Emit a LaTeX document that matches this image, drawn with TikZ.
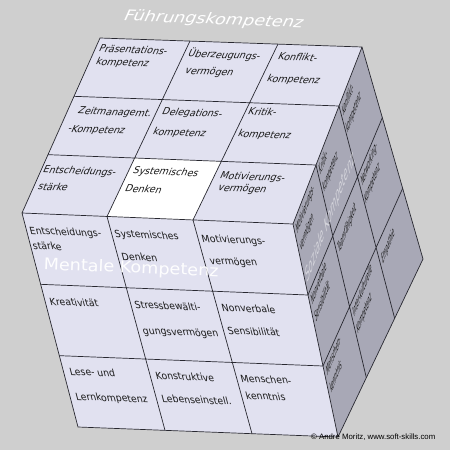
\documentclass[tikz,border=0pt]{standalone}
\usepackage{fontspec}
\usetikzlibrary{calc}
\newfontfamily\cf{DejaVu Sans}[FakeStretch=0.9]
\newfontfamily\wf{DejaVu Sans}[FakeStretch=1.1]
\newfontfamily\lf{Liberation Sans}
\definecolor{bg}{RGB}{207,207,207}
\definecolor{facel}{RGB}{225,225,240}
\definecolor{facer}{RGB}{168,168,182}
\definecolor{edgec}{RGB}{40,40,48}
\newcommand\rpt[3]{%
  \coordinate (#1t) at ($(M3)!#2!(TB3)$);
  \coordinate (#1b) at ($(B3)!#2!(R)$);
  \coordinate (#1) at ($(#1t)!#3!(#1b)$);}
\begin{document}
\begin{tikzpicture}[x=1pt,y=-1pt,
  gridl/.style={draw=edgec,line width=0.7pt},
  frontcm/.style={cm={0.9992,-0.0406,-0.2532,0.9674,(0,0)}},
  topcm/.style={cm={0.9992,-0.039,0.407,0.913,(0,0)}},
  rightcm/.style={cm={0.261,0.671,-0.248,1.174,(0,0)}},
  ftext/.style={font=\cf\fontsize{10.3}{12}\selectfont, anchor=mid west, inner sep=0pt, text=black!90, frontcm},
  ttext/.style={font=\cf\fontsize{10.5}{12}\selectfont, anchor=mid west, inner sep=0pt, text=black!90, topcm},
  rtext/.style={font=\cf\fontsize{10.5}{15}\selectfont, align=left, anchor=north west, inner sep=0pt, text=black!90, rightcm},
  wmark/.style={font=\wf\fontsize{16}{18}\selectfont, anchor=base, inner sep=0pt, text=white}
]
\fill[bg] (0,0) rectangle (450,450);
\useasboundingbox (0,0) rectangle (450,450);
% corners
\coordinate (TB0) at (100,38);
\coordinate (TB1) at (190,41);
\coordinate (TB2) at (278,44);
\coordinate (TB3) at (362,47);
\coordinate (M0) at (22,213);
\coordinate (M1) at (107,216.5);
\coordinate (M2) at (193,220);
\coordinate (M3) at (293,224);
\coordinate (B0) at (78,427);
\coordinate (B1) at (165,430.3);
\coordinate (B2) at (252,433.7);
\coordinate (B3) at (338,437);
\coordinate (R) at (423,259);
% faces
\fill[facel] (TB0)--(TB3)--(M3)--(M0)--cycle;
\fill[facel] (M0)--(M3)--(B3)--(B0)--cycle;
\fill[facer] (M3)--(TB3)--(R)--(B3)--cycle;
\coordinate (L1) at ($(TB0)!1/3!(M0)$);
\coordinate (R1) at ($(TB3)!1/3!(M3)$);
\coordinate (L2) at ($(TB0)!2/3!(M0)$);
\coordinate (R2) at ($(TB3)!2/3!(M3)$);
\coordinate (W1) at (intersection of TB1--M1 and L2--R2);
\coordinate (W2) at (intersection of TB2--M2 and L2--R2);
\fill[white] (W1)--(W2)--(M2)--(M1)--cycle;
% grid lines
\draw[gridl] (L1)--(R1) (L2)--(R2) (TB1)--(M1) (TB2)--(M2);
\coordinate (FL1) at ($(M0)!1/3!(B0)$);
\coordinate (FR1) at ($(M3)!1/3!(B3)$);
\coordinate (FL2) at ($(M0)!2/3!(B0)$);
\coordinate (FR2) at ($(M3)!2/3!(B3)$);
\draw[gridl] (FL1)--(FR1) (FL2)--(FR2) (M1)--(B1) (M2)--(B2);
\coordinate (SB1) at ($(TB3)!1/3!(R)$);
\coordinate (SB2) at ($(TB3)!2/3!(R)$);
\coordinate (SD1) at ($(B3)!1/3!(R)$);
\coordinate (SD2) at ($(B3)!2/3!(R)$);
\coordinate (ST1) at ($(M3)!1/3!(TB3)$);
\coordinate (ST2) at ($(M3)!2/3!(TB3)$);
\draw[gridl] (FR1)--(SB1) (FR2)--(SB2) (ST1)--(SD1) (ST2)--(SD2);
\draw[gridl] (TB0)--(TB3)--(R)--(B3)--(B0)--(M0)--cycle (M0)--(M3)--(TB3) (M3)--(B3);
% watermarks
\node[wmark, topcm] (fk) at (212,24) {Führungskompetenz};
\node[wmark, rotate=-2.3, opacity=0.95] (mk) at (131,273) {Mentale Kompetenz};
\node[wmark, cm={0.261,0.671,-0.207,0.978,(0,0)}, font=\wf\fontsize{17.5}{18}\selectfont, text opacity=0.5] (sk) at (331,222) {Soziale Kompetenz};
% top face text
\node[ttext] (ta1) at (99,50) {Präsentations-};
\node[ttext] (ta2) at (96,63) {kompetenz};
\node[ttext] (tb1) at (188,55) {Überzeugungs-};
\node[ttext] (tb2) at (185,72) {vermögen};
\node[ttext] (tc1) at (278,58) {Konflikt-};
\node[ttext] (tc2) at (267,80) {kompetenz};
\node[ttext] (td1) at (78,112) {Zeitmanagemt.};
\node[ttext] (td2) at (68,130) {-Kompetenz};
\node[ttext] (te1) at (162,113) {Delegations-};
\node[ttext] (te2) at (153,133) {kompetenz};
\node[ttext] (tf1) at (248,113) {Kritik-};
\node[ttext] (tf2) at (238,135) {kompetenz};
\node[ttext] (tg1) at (43,171) {Entscheidungs-};
\node[ttext] (tg2) at (38,188) {stärke};
\node[ttext] (th1) at (133,172) {Systemisches};
\node[ttext] (th2) at (125,190) {Denken};
\node[ttext] (ti1) at (220,177) {Motivierungs-};
\node[ttext] (ti2) at (218,189) {vermögen};
% front face text
\node[ftext] (fa1) at (30,232) {Entscheidungs-};
\node[ftext] (fa2) at (33,247) {stärke};
\node[ftext] (fb1) at (115,235) {Systemisches};
\node[ftext] (fb2) at (122,258) {Denken};
\node[ftext] (fc1) at (202,240) {Motivierungs-};
\node[ftext] (fc2) at (210,262) {vermögen};
\node[ftext] (fd1) at (50,303) {Kreativität};
\node[ftext] (fe1) at (135,306) {Stressbewälti-};
\node[ftext] (fe2) at (143,332) {gungsvermögen};
\node[ftext] (ff1) at (222,309) {Nonverbale};
\node[ftext] (ff2) at (228,332) {Sensibilität};
\node[ftext] (fg1) at (70,373) {Lese- und};
\node[ftext] (fg2) at (76,398) {Lernkompetenz};
\node[ftext] (fh1) at (156,377) {Konstruktive};
\node[ftext] (fh2) at (162,400) {Lebenseinstell.};
\node[ftext] (fi1) at (241,380) {Menschen-};
\node[ftext] (fi2) at (246,397) {kenntnis};
% right face text
\rpt{ra}{0.02}{0.02}
\rpt{rb}{0.353}{0.02}
\rpt{rc}{0.687}{0.02}
\rpt{rd}{0.02}{0.353}
\rpt{re}{0.353}{0.39}
\rpt{rf}{0.687}{0.353}
\rpt{rg}{0.02}{0.687}
\rpt{rh}{0.353}{0.687}
\rpt{ri}{0.687}{0.72}
\node[rtext] (ra) at (ra) {Motivierungs-\\vermögen};
\node[rtext] (rb) at (rb) {Kritik-\\kompetenz};
\node[rtext] (rc) at (rc) {Konflikt-\\kompetenz};
\node[rtext] (rd) at (rd) {Nonverbale\\Sensibilität};
\node[rtext] (re) at (re) {Teamfähigkeit};
\node[rtext] (rf) at (rf) {Networking-\\Kompetenz};
\node[rtext] (rg) at (rg) {Menschen-\\kenntnis};
\node[rtext] (rh) at (rh) {Inter-kulturelle\\Kompetenz};
\node[rtext] (ri) at (ri) {Empathie};
% copyright
\node[font=\lf\fontsize{7.8}{8}\selectfont, anchor=base west, inner sep=0pt] (cr) at (311,439) {© Andre Moritz, www.soft-skills.com};
\end{tikzpicture}
\end{document}
